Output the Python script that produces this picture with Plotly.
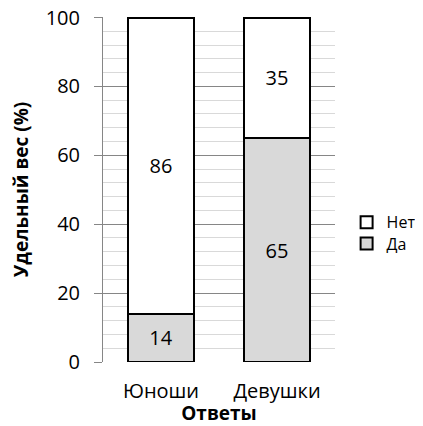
import plotly.graph_objects as go

categories = ["Юноши", "Девушки"]
yes_values = [14, 65]
no_values = [86, 35]
y_ticks = [0, 20, 40, 60, 80, 100]

FONT = "Open Sans"

fig = go.Figure()
fig.add_trace(go.Bar(
    name="Да", x=categories, y=yes_values, legend="legend2",
    marker=dict(color="#d9d9d9", line=dict(color="black", width=2)),
    text=[str(v) for v in yes_values], textposition="inside",
    insidetextanchor="middle", textangle=0,
    textfont=dict(family=FONT, size=20, color="black"),
))
fig.add_trace(go.Bar(
    name="Нет", x=categories, y=no_values, legend="legend",
    marker=dict(color="white", line=dict(color="black", width=2)),
    text=[str(v) for v in no_values], textposition="inside",
    insidetextanchor="middle", textangle=0,
    textfont=dict(family=FONT, size=20, color="black"),
))

legend_common = dict(
    xanchor="left", yanchor="middle",
    font=dict(family=FONT, size=16, color="black"),
    itemwidth=30, bgcolor="rgba(0,0,0,0)",
)

fig.update_layout(
    barmode="stack",
    bargap=0.43,
    width=415, height=418,
    margin=dict(l=95, r=88, t=9, b=64, autoexpand=False),
    paper_bgcolor="white", plot_bgcolor="white",
    font=dict(family=FONT, color="black"),
    showlegend=True,
    legend=dict(x=1.05, y=0.405, **legend_common),
    legend2=dict(x=1.05, y=0.343, **legend_common),
    uniformtext=dict(minsize=20, mode="show"),
)

fig.update_yaxes(
    range=[0, 100.15],
    tickvals=y_ticks,
    ticktext=[str(v) for v in y_ticks],
    tickfont=dict(family=FONT, size=20, color="black"),
    ticklabelstandoff=10,
    ticklabeloverflow="allow",
    showgrid=True, gridcolor="#868686", gridwidth=1,
    ticks="outside", ticklen=8, tickcolor="#868686",
    showline=True, linecolor="#868686", linewidth=1,
    zeroline=False, automargin=False,
    minor=dict(dtick=4, showgrid=True, gridcolor="#d9d9d9", gridwidth=1),
    title=dict(text="<b>Удельный вес (%)</b>", font=dict(family=FONT, size=19, color="black"), standoff=22),
)
fig.update_xaxes(
    tickfont=dict(family=FONT, size=20, color="black"),
    ticklabelstandoff=15,
    showline=False, ticks="", automargin=False,
    title=dict(text="<b>Ответы</b>", font=dict(family=FONT, size=19, color="black"), standoff=6),
)

fig.write_html("out.html")
